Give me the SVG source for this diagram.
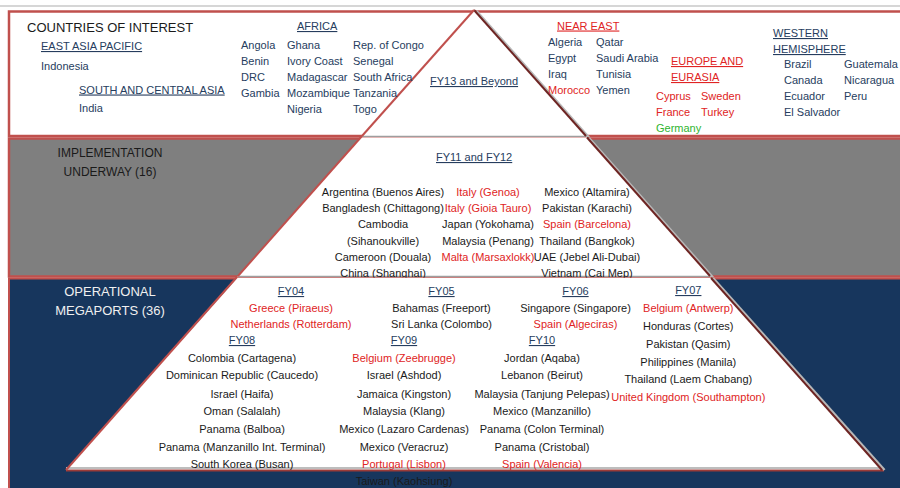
<svg xmlns="http://www.w3.org/2000/svg" width="900" height="488" viewBox="0 0 900 488">
<style>
.t{font-family:"Liberation Sans",Arial,sans-serif;font-size:11px;fill:#1a1a1a}
.c{text-anchor:middle}
.r{fill:#e02424}
.b{fill:#263d5e}
.g{fill:#2fb52f}
.u{text-decoration:underline}
.h12{font-size:12px}
.h13{font-size:13px}
.w{fill:#f0f0f0}
.le{stroke:#c0504d;stroke-width:2;fill:none}
.re{stroke:#6e2523;stroke-width:2;fill:none}
.sh{stroke:#b8b8b8;stroke-width:2.5;fill:none}
.base{stroke:#9e9e9e;stroke-width:1.5;fill:none}
</style>
<rect x="0" y="0" width="900" height="488" fill="#ffffff"/>
<line x1="0" y1="6" x2="900" y2="6" stroke="#c8c8c8" stroke-width="1.5"/>

<g id="band-top">
  <rect x="9" y="11.5" width="900" height="124.5" fill="#ffffff" stroke="#c0504d" stroke-width="2.5"/>
  <polygon points="474,10 587,137.5 361,137.5" fill="#ffffff"/>
  <line class="base" x1="362" y1="136.5" x2="588" y2="136.5"/>
  <line class="sh" x1="476.5" y1="11" x2="589" y2="137.5"/>
  <line class="re" x1="474" y1="10" x2="586" y2="136"/>
  <line class="le" x1="474" y1="10" x2="362" y2="136"/>
  <g id="coi">
    <text class="t h13" x="27" y="32">COUNTRIES OF INTEREST</text>
    <text class="t b u" x="41" y="50">EAST ASIA PACIFIC</text>
    <text class="t b" x="41" y="69.5">Indonesia</text>
    <text class="t b u" x="79" y="93.5">SOUTH AND CENTRAL ASIA</text>
    <text class="t b" x="79" y="111.5">India</text>
  </g>
  <g id="africa">
    <text class="t b u" x="297" y="30">AFRICA</text>
    <text class="t b" x="241" y="48.5">Angola</text>
    <text class="t b" x="241" y="64.5">Benin</text>
    <text class="t b" x="241" y="80.5">DRC</text>
    <text class="t b" x="241" y="96.5">Gambia</text>
    <text class="t b" x="287" y="48.5">Ghana</text>
    <text class="t b" x="287" y="64.5">Ivory Coast</text>
    <text class="t b" x="287" y="80.5">Madagascar</text>
    <text class="t b" x="287" y="96.5">Mozambique</text>
    <text class="t b" x="287" y="112.5">Nigeria</text>
    <text class="t b" x="353" y="48.5">Rep. of Congo</text>
    <text class="t b" x="353" y="64.5">Senegal</text>
    <text class="t b" x="353" y="80.5">South Africa</text>
    <text class="t b" x="353" y="96.5">Tanzania</text>
    <text class="t b" x="353" y="112.5">Togo</text>
  </g>
  <text id="fy13" class="t b u" x="430" y="85">FY13 and Beyond</text>
  <g id="near-east">
    <text class="t r u" x="557" y="29.5">NEAR EAST</text>
    <text class="t b" x="548" y="46">Algeria</text>
    <text class="t b" x="548" y="62">Egypt</text>
    <text class="t b" x="548" y="78">Iraq</text>
    <text class="t r" x="548" y="94">Morocco</text>
    <text class="t b" x="596" y="46">Qatar</text>
    <text class="t b" x="596" y="62">Saudi Arabia</text>
    <text class="t b" x="596" y="78">Tunisia</text>
    <text class="t b" x="596" y="94">Yemen</text>
  </g>
  <g id="europe">
    <text class="t r u" x="671" y="65">EUROPE AND</text>
    <text class="t r u" x="671" y="81">EURASIA</text>
    <text class="t r" x="656" y="100">Cyprus</text>
    <text class="t r" x="701" y="100">Sweden</text>
    <text class="t r" x="656" y="116">France</text>
    <text class="t r" x="701" y="116">Turkey</text>
    <text class="t g" x="656" y="132">Germany</text>
  </g>
  <g id="western">
    <text class="t b u" x="773" y="37">WESTERN</text>
    <text class="t b u" x="773" y="53">HEMISPHERE</text>
    <text class="t b" x="784" y="68">Brazil</text>
    <text class="t b" x="784" y="84">Canada</text>
    <text class="t b" x="784" y="100">Ecuador</text>
    <text class="t b" x="784" y="116">El Salvador</text>
    <text class="t b" x="844" y="68">Guatemala</text>
    <text class="t b" x="844" y="84">Nicaragua</text>
    <text class="t b" x="844" y="100">Peru</text>
  </g>
</g>

<g id="band-mid">
  <rect x="9" y="138.5" width="900" height="138" fill="#7f7f7f" stroke="#c0504d" stroke-width="2.5"/>
  <polygon points="361,137.5 587,137.5 711,277.5 237,277.5" fill="#ffffff"/>
  <line class="base" x1="238" y1="276.5" x2="711" y2="276.5"/>
  <line class="sh" x1="589" y1="138" x2="713" y2="277.5"/>
  <line class="re" x1="587" y1="137.5" x2="710" y2="276"/>
  <line class="le" x1="362" y1="136" x2="238" y2="276"/>
  <text class="t h12 c" x="110" y="157">IMPLEMENTATION</text>
  <text class="t h12 c" x="110" y="176">UNDERWAY (16)</text>
  <text class="t b u" x="436" y="161">FY11 and FY12</text>
  <g id="fy11-12">
    <text class="t c" x="383" y="196">Argentina (Buenos Aires)</text>
    <text class="t c" x="383" y="212.2">Bangladesh (Chittagong)</text>
    <text class="t c" x="383" y="228.4">Cambodia</text>
    <text class="t c" x="383" y="244.6">(Sihanoukville)</text>
    <text class="t c" x="383" y="260.8">Cameroon (Douala)</text>
    <text class="t c" x="383" y="277">China (Shanghai)</text>
    <text class="t c r" x="488" y="196">Italy (Genoa)</text>
    <text class="t c r" x="488" y="212.2">Italy (Gioia Tauro)</text>
    <text class="t c" x="488" y="228.4">Japan (Yokohama)</text>
    <text class="t c" x="488" y="244.6">Malaysia (Penang)</text>
    <text class="t c r" x="488" y="260.8">Malta (Marsaxlokk)</text>
    <text class="t c" x="587" y="196">Mexico (Altamira)</text>
    <text class="t c" x="587" y="212.2">Pakistan (Karachi)</text>
    <text class="t c r" x="587" y="228.4">Spain (Barcelona)</text>
    <text class="t c" x="587" y="244.6">Thailand (Bangkok)</text>
    <text class="t c" x="587" y="260.8">UAE (Jebel Ali-Dubai)</text>
    <text class="t c" x="587" y="277">Vietnam (Cai Mep)</text>
  </g>
</g>

<g id="band-bottom">
  <rect x="9" y="278.5" width="900" height="220" fill="#17365d" stroke="#c0504d" stroke-width="2"/>
  <polygon points="237,278 711,278 882,470 66,470" fill="#ffffff"/>
  <line x1="66" y1="468" x2="882" y2="468" stroke="#bdbdbd" stroke-width="2"/>
  <line x1="66" y1="470.5" x2="884" y2="470.5" stroke="#9b3b38" stroke-width="2"/>
  <line class="sh" x1="713" y1="278" x2="884.5" y2="470"/>
  <line class="re" x1="711" y1="278" x2="882" y2="470"/>
  <line class="le" x1="237" y1="277" x2="66" y2="470"/>
  <text class="t h13 c w" x="110" y="296">OPERATIONAL</text>
  <text class="t h13 c w" x="110" y="314.5">MEGAPORTS (36)</text>
  <g id="fy04">
    <text class="t c b u" x="291" y="295">FY04</text>
    <text class="t c r" x="291" y="312">Greece (Piraeus)</text>
    <text class="t c r" x="291" y="328">Netherlands (Rotterdam)</text>
  </g>
  <g id="fy05">
    <text class="t c b u" x="441.5" y="295">FY05</text>
    <text class="t c" x="441.5" y="312">Bahamas (Freeport)</text>
    <text class="t c" x="441.5" y="328">Sri Lanka (Colombo)</text>
  </g>
  <g id="fy06">
    <text class="t c b u" x="575.5" y="295">FY06</text>
    <text class="t c" x="575.5" y="312">Singapore (Singapore)</text>
    <text class="t c r" x="575.5" y="328">Spain (Algeciras)</text>
  </g>
  <g id="fy07">
    <text class="t c b u" x="688.3" y="294">FY07</text>
    <text class="t c r" x="688.3" y="312">Belgium (Antwerp)</text>
    <text class="t c" x="688.3" y="330">Honduras (Cortes)</text>
    <text class="t c" x="688.3" y="348">Pakistan (Qasim)</text>
    <text class="t c" x="688.3" y="365.5">Philippines (Manila)</text>
    <text class="t c" x="688.3" y="383">Thailand (Laem Chabang)</text>
    <text class="t c r" x="688.3" y="400.5">United Kingdom (Southampton)</text>
  </g>
  <g id="fy08">
    <text class="t c b u" x="242" y="344">FY08</text>
    <text class="t c" x="242" y="361.5">Colombia (Cartagena)</text>
    <text class="t c" x="242" y="379">Dominican Republic (Caucedo)</text>
    <text class="t c" x="242" y="397.5">Israel (Haifa)</text>
    <text class="t c" x="242" y="415">Oman (Salalah)</text>
    <text class="t c" x="242" y="433">Panama (Balboa)</text>
    <text class="t c" x="242" y="450.5">Panama (Manzanillo Int. Terminal)</text>
    <text class="t c" x="242" y="467.5">South Korea (Busan)</text>
  </g>
  <g id="fy09">
    <text class="t c b u" x="404" y="344">FY09</text>
    <text class="t c r" x="404" y="361.5">Belgium (Zeebrugge)</text>
    <text class="t c" x="404" y="379">Israel (Ashdod)</text>
    <text class="t c" x="404" y="397.5">Jamaica (Kingston)</text>
    <text class="t c" x="404" y="415">Malaysia (Klang)</text>
    <text class="t c" x="404" y="433">Mexico (Lazaro Cardenas)</text>
    <text class="t c" x="404" y="450.5">Mexico (Veracruz)</text>
    <text class="t c r" x="404" y="467.5">Portugal (Lisbon)</text>
    <text class="t c" x="404" y="484.5">Taiwan (Kaohsiung)</text>
  </g>
  <g id="fy10">
    <text class="t c b u" x="542" y="344">FY10</text>
    <text class="t c" x="542" y="361.5">Jordan (Aqaba)</text>
    <text class="t c" x="542" y="379">Lebanon (Beirut)</text>
    <text class="t c" x="542" y="397.5">Malaysia (Tanjung Pelepas)</text>
    <text class="t c" x="542" y="415">Mexico (Manzanillo)</text>
    <text class="t c" x="542" y="433">Panama (Colon Terminal)</text>
    <text class="t c" x="542" y="450.5">Panama (Cristobal)</text>
    <text class="t c r" x="542" y="467.5">Spain (Valencia)</text>
  </g>
</g>
<g id="connectors"/>
</svg>
